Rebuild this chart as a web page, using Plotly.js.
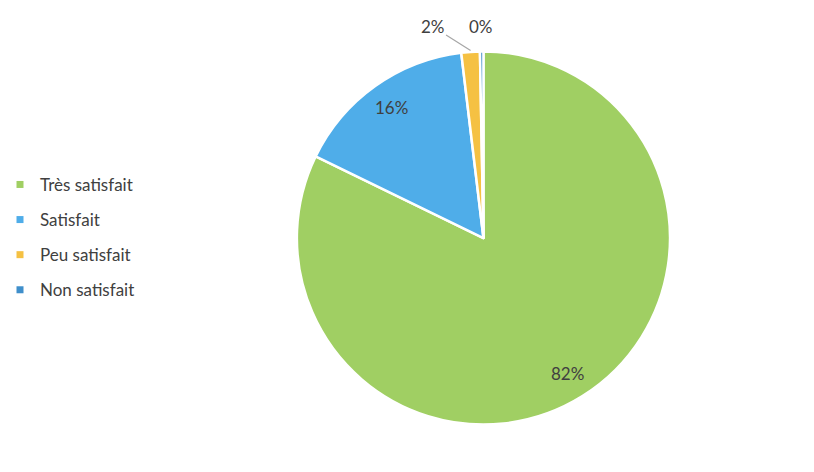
<!DOCTYPE html>
<html>
<head>
<meta charset="utf-8">
<script src="https://cdn.plot.ly/plotly-3.0.1.min.js"></script>
<style>html,body{margin:0;padding:0;background:#fff;}#chart{width:814px;height:472px;}</style>
</head>
<body>
<div id="chart"></div>
<script>
const categories = ["Très satisfait", "Satisfait", "Peu satisfait", "Non satisfait"];
const values = [82.2, 15.9, 1.6, 0.3];
const colors = ["#A0CF63", "#4FADE9", "#F5C143", "#3F8FCB"];

const FONT = "Lato, 'Open Sans', sans-serif";
const W = 814, H = 472;
const dom = {x: [0.3600, 0.8218], y: [0.0975, 0.8940]};

const pie = {
  type: "pie",
  labels: categories,
  values: values,
  sort: false,
  direction: "clockwise",
  rotation: 0,
  marker: {colors: colors, line: {color: "#ffffff", width: 2.5}},
  textinfo: "none",
  hoverinfo: "label+percent",
  showlegend: false,
  domain: dom
};

// legend entries (one per category)
const legendTraces = categories.map((c, i) => ({
  type: "scatter", mode: "markers", x: [null], y: [null],
  name: c, legendgroup: "g" + i, showlegend: true,
  marker: {symbol: "square", size: 7, color: colors[i]}
}));

// percentage labels placed along slice mid-angles
const total = values.reduce((a, b) => a + b, 0);
const cxPx = W * (dom.x[0] + dom.x[1]) / 2;
const cyPx = H * (1 - (dom.y[0] + dom.y[1]) / 2);
const R = Math.min(W * (dom.x[1] - dom.x[0]), H * (dom.y[1] - dom.y[0])) / 2;
let cum = 0;
const annotations = [];
values.forEach((v, i) => {
  const mid = (cum + v / 2) / total * 2 * Math.PI;
  cum += v;
  const txt = Math.round(v / total * 100) + "%";
  const big = v / total > 0.05;
  const rr = big ? 0.85 * R : R;
  const px = cxPx + rr * Math.sin(mid);
  const py = cyPx - rr * Math.cos(mid);
  const a = {
    x: px / W, y: 1 - py / H, xref: "paper", yref: "paper",
    text: txt, font: {family: FONT, size: 17, color: "#404040"},
    xanchor: "center", yanchor: "middle"
  };
  if (big) {
    a.showarrow = false;
  } else if (i === 2) {
    a.showarrow = true; a.arrowhead = 0; a.arrowwidth = 1.2; a.arrowcolor = "#A6A6A6";
    a.ax = -38; a.ay = -24; a.standoff = 0;
  } else {
    a.showarrow = false; a.yshift = 24; a.xshift = -1;
  }
  annotations.push(a);
});

const layout = {
  width: W, height: H,
  margin: {l: 0, r: 0, t: 0, b: 0},
  paper_bgcolor: "#ffffff",
  plot_bgcolor: "rgba(0,0,0,0)",
  xaxis: {visible: false}, yaxis: {visible: false},
  showlegend: true,
  legend: {
    x: -0.008, xanchor: "left", y: 0.497, yanchor: "middle",
    font: {family: FONT, size: 17, color: "#404040"},
    itemwidth: 30, traceorder: "grouped", tracegroupgap: 10,
    bgcolor: "rgba(0,0,0,0)"
  },
  annotations: annotations,
  font: {family: FONT, color: "#404040"}
};

Plotly.newPlot("chart", [pie].concat(legendTraces), layout, {displayModeBar: false, staticPlot: true});
</script>
</body>
</html>
